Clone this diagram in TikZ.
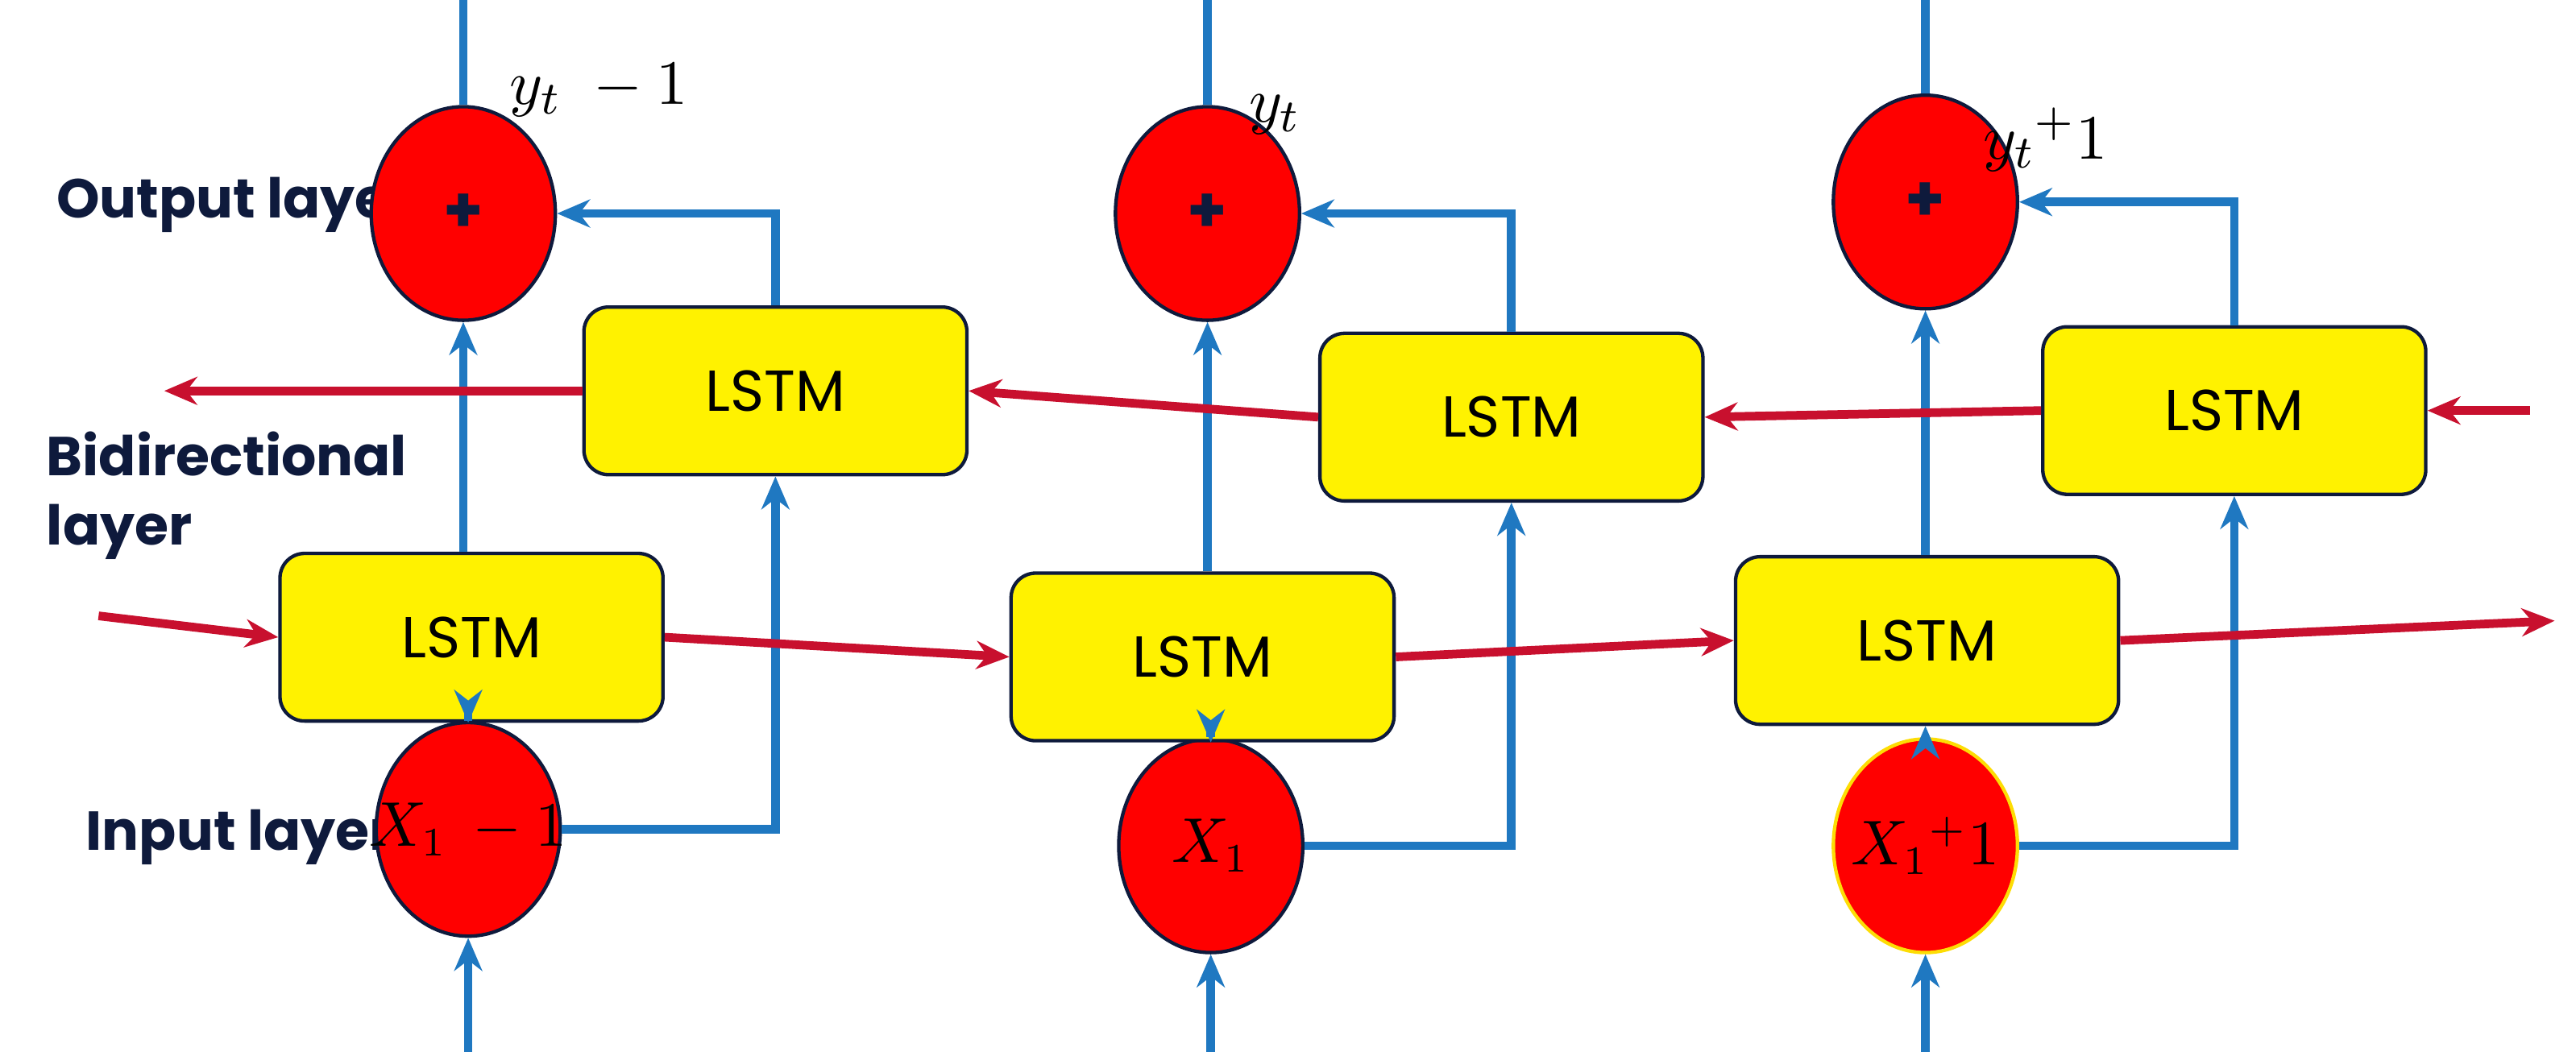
\documentclass[tikz,border=0pt]{standalone}
\usepackage{fontspec}
\setmainfont{Poppins}
\usetikzlibrary{shapes.geometric,arrows.meta}
\definecolor{bl}{HTML}{1F78C1}
\definecolor{rd}{HTML}{C8102E}
\definecolor{nv}{HTML}{0E1A3C}
\begin{document}
\begin{tikzpicture}[x=0.01cm,y=-0.01cm,
 circ/.style={ellipse,draw=nv,line width=0.6pt,fill=red,minimum width=1.12cm,minimum height=1.3cm,inner sep=0pt},
 ctext/.style={font=\fontsize{10.5}{12}\selectfont,inner sep=0pt},
 lstm/.style={draw=nv,line width=0.6pt,fill=yellow,rounded corners=0.15cm,minimum width=2.33cm,minimum height=1.02cm,font=\fontsize{10}{12}\selectfont},
 ba/.style={draw=bl,line width=1.5pt,-{Stealth[length=0.2cm,width=0.17cm]}},
 ra/.style={draw=rd,line width=1.5pt,-{Stealth[length=0.2cm,width=0.17cm]}},
 lab/.style={font=\fontsize{9.5}{12}\bfseries\selectfont,text=nv,align=left},
 ylab/.style={anchor=west,font=\fontsize{11}{13}\selectfont}]
\useasboundingbox (0,0) rectangle (1568,640.5);
% labels
\node[lab,anchor=west] (lo) at (22,125) {Output layer};
\node[lab,anchor=west] (lb) at (16,302) {Bidirectional\\layer};
\node[lab,anchor=west] (li) at (40,510) {Input layer};
% column 1
\node[circ] (o1) at (282,130) {};
\node[circ] (i1) at (285,505) {};
\node[lstm] (l1) at (287,388) {LSTM};
\node[lstm] (u1) at (472,238) {LSTM};
% column 2
\node[circ] (o2) at (735,130) {};
\node[circ] (i2) at (737,515) {};
\node[lstm] (l2) at (732,400) {LSTM};
\node[lstm] (u2) at (920,254) {LSTM};
% column 3
\node[circ] (o3) at (1172,123) {};
\node[circ,draw=yellow!80!orange] (i3) at (1172,515) {};
\node[lstm] (l3) at (1173,390) {LSTM};
\node[lstm] (u3) at (1360,250) {LSTM};
% circle texts
\foreach \k in {1,2,3}{\node[ctext,font=\bfseries\fontsize{11}{12}\selectfont,text=nv] (p\k) at (o\k) {+};}
\node[ctext] (x1) at (i1) {$X_1\,-1$};
\node[ctext] (x2) at (i2) {$X_1$};
\node[ctext] (x3) at (i3) {$X_1{}^{+}1$};
\foreach \k in {1,2,3}{
 \coordinate (t\k) at ([yshift=1.15cm]o\k.north);
 \draw[ba] (o\k.north) -- (t\k);
 \coordinate (b\k) at ([yshift=-0.95cm]i\k.south);
 \draw[ba] (b\k) -- (i\k.south);
 \draw[ba] (i\k.north) -- (i\k.north |- l\k.south);
 \draw[ba] (l\k.north -| o\k) -- (o\k.south);
 \draw[ba] (i\k.east) -| (u\k.south);
 \draw[ba] (u\k.north) |- (o\k.east);
}
\node[ylab] (y1) at (298,55) {$y_t\;-1$};
\node[ylab] (y2) at (748,70) {$y_t$};
\node[ylab] (y3) at (1195,85) {$y_t{}^{+}1$};
% red forward
\coordinate (fin) at (60,375);
\coordinate (fout) at (1555,378);
\draw[ra] (fin) -- (l1.west);
\draw[ra] (l1.east) -- (l2.west);
\draw[ra] (l2.east) -- (l3.west);
\draw[ra] (l3.east) -- (fout);
% red backward
\coordinate (bin) at (1540,250);
\coordinate (bout) at (100,238);
\draw[ra] (bin) -- (u3.east);
\draw[ra] (u3.west) -- (u2.east);
\draw[ra] (u2.west) -- (u1.east);
\draw[ra] (u1.west) -- (bout);
\end{tikzpicture}
\end{document}
